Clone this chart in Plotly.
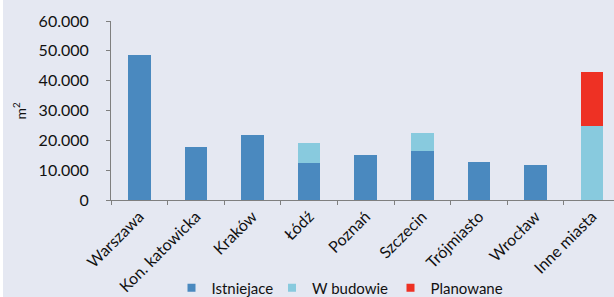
import plotly.graph_objects as go

categories = ["Warszawa", "Kon. katowicka", "Kraków", "Łódź", "Poznań",
              "Szczecin", "Trójmiasto", "Wrocław", "Inne miasta"]
istniejace = [48500, 17800, 21700, 12400, 15000, 16400, 12900, 11900, 0]
w_budowie = [0, 0, 0, 6800, 0, 6000, 0, 0, 24800]
planowane = [0, 0, 0, 0, 0, 0, 0, 0, 18000]
series_names = ["Istniejace", "W budowie", "Planowane"]
y_ticks = [0, 10000, 20000, 30000, 40000, 50000, 60000]

colors = ["#4A89BF", "#88CADE", "#EE3124"]
bg = "#E5E8F2"
font_family = "Lato, 'Open Sans', sans-serif"

W, H = 614, 297
ml, mt, mb = 111, 21, 97
pw = W - ml
step = 56.6
legend_px = [171.5, 272, 390.5]
legend_ids = ["legend", "legend2", "legend3"]

fig = go.Figure()
for name, vals, col in zip(series_names, [istniejace, w_budowie, planowane], colors):
    fig.add_trace(go.Bar(x=categories, y=vals, name=name, marker_color=col,
                         marker_line_width=0, showlegend=False))
# legend entries (small square keys), one legend per entry for exact placement
for name, col, lid in zip(series_names, colors, legend_ids):
    fig.add_trace(go.Scatter(x=[None], y=[None], mode="markers", name=name,
                             legend=lid,
                             marker=dict(symbol="square", size=8, color=col)))

legend_common = dict(orientation="h", xanchor="left", xref="container",
                     yref="container", y=1 - 288 / H, yanchor="middle",
                     font=dict(size=15), bgcolor="rgba(0,0,0,0)", itemclick=False)

fig.update_layout(
    width=W, height=H,
    margin=dict(l=ml, r=0, t=mt, b=mb, pad=0, autoexpand=False),
    barmode="stack", bargap=0.6,
    paper_bgcolor=bg, plot_bgcolor=bg,
    separators=",.",
    font=dict(family=font_family, size=15, color="#111111"),
    showlegend=True,
    xaxis=dict(range=[-0.5, -0.5 + pw / step], tickangle=-45,
               showline=True, linecolor="#7F7F7F", linewidth=1,
               ticks="outside", tickson="boundaries", ticklen=4,
               tickcolor="#7F7F7F", showgrid=False, zeroline=False,
               tickfont=dict(size=16), fixedrange=True, automargin=False),
    yaxis=dict(range=[0, 60000], tickvals=y_ticks, tickformat=",.0f",
               showline=True, linecolor="#7F7F7F", linewidth=1,
               ticks="outside", ticklen=4, tickcolor="#7F7F7F",
               ticklabelstandoff=14, automargin=False,
               showgrid=False, zeroline=False, tickfont=dict(size=16),
               fixedrange=True),
    annotations=[dict(text="m<sup>2</sup>", xref="paper", yref="paper",
                      x=(20 - ml) / pw, xanchor="center", y=0.5, yanchor="middle",
                      textangle=-90, showarrow=False, font=dict(size=14))],
    shapes=[dict(type="rect", xref="paper", yref="paper",
                 x0=(0 - ml) / pw, x1=(3 - ml) / pw, y0=-2, y1=2,
                 fillcolor="white", line_width=0, layer="below")],
)
for lid, px in zip(legend_ids, legend_px):
    fig.update_layout({lid: dict(legend_common, x=px / W)})

fig.write_html("out.html",
               config={"displayModeBar": False},
               post_script="document.body.style.margin='0';"
                           "document.body.style.overflow='hidden';")
